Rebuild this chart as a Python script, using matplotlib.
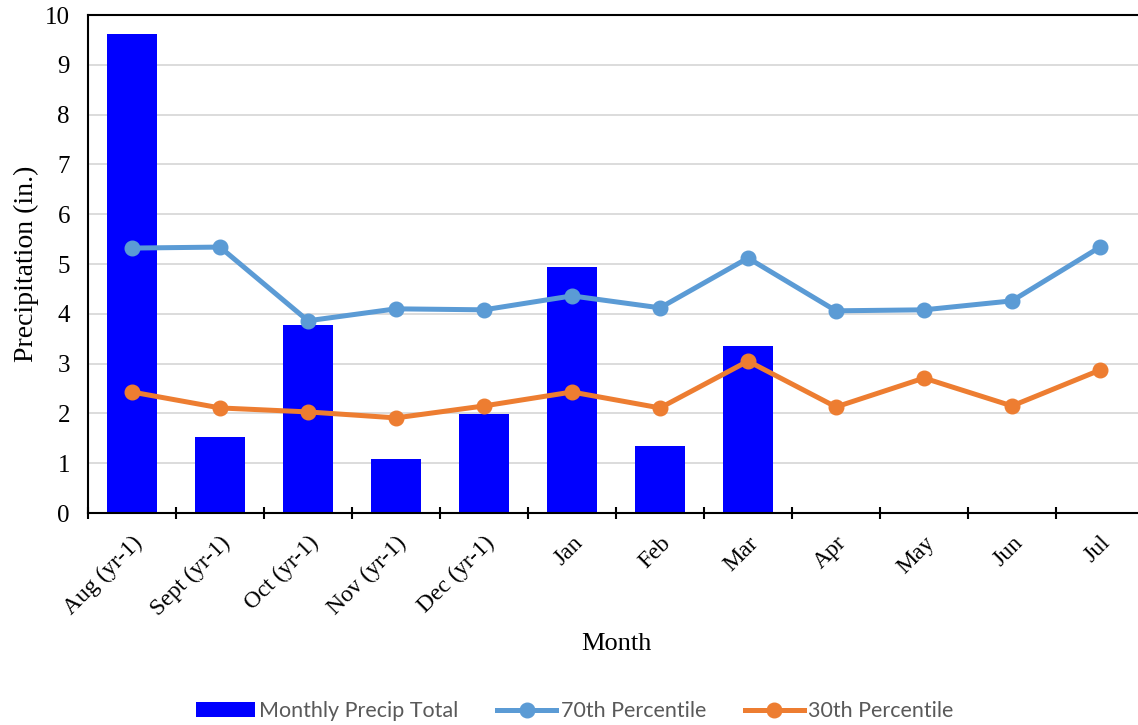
import numpy as np
import matplotlib.pyplot as plt
from matplotlib.ticker import FixedLocator

months = ['Aug (yr-1)', 'Sept (yr-1)', 'Oct (yr-1)', 'Nov (yr-1)', 'Dec (yr-1)',
          'Jan', 'Feb', 'Mar', 'Apr', 'May', 'Jun', 'Jul']
precip_total = [9.62, 1.53, 3.78, 1.08, 1.99, 4.94, 1.35, 3.35]
pct70 = [5.32, 5.34, 3.86, 4.10, 4.08, 4.36, 4.12, 5.12, 4.06, 4.08, 4.26, 5.34]
pct30 = [2.43, 2.11, 2.03, 1.91, 2.15, 2.43, 2.11, 3.05, 2.13, 2.71, 2.15, 2.87]

serif = ['Liberation Serif', 'DejaVu Serif']

fig = plt.figure(figsize=(11.38, 7.25), dpi=100)
ax = fig.add_axes([0.0773, 0.2924, 0.928, 0.6869])

x = np.arange(len(months))
bars = ax.bar(x[:len(precip_total)], precip_total, width=0.56, color='#0000FF',
              label='Monthly Precip Total', zorder=2)
l70, = ax.plot(x, pct70, color='#5B9BD5', lw=3.6, marker='o', ms=10.5,
               label='70th Percentile', zorder=3)
l30, = ax.plot(x, pct30, color='#ED7D31', lw=3.6, marker='o', ms=10.5,
               label='30th Percentile', zorder=3)

ax.set_xlim(-0.5, len(months) - 0.5)
ax.set_ylim(0, 10)
ax.set_yticks(range(0, 11))
ax.yaxis.grid(True, color='#D9D9D9', lw=1.3, zorder=0)
ax.set_axisbelow(True)

ax.set_xticks(x)
ax.set_xticklabels(months, rotation=45, ha='right', rotation_mode='anchor',
                   family=serif, fontsize=17)
ax.xaxis.set_minor_locator(FixedLocator(np.arange(-0.5, len(months), 1.0)))
ax.tick_params(axis='x', which='major', length=0, pad=14)
ax.tick_params(axis='x', which='minor', length=9, width=1.5, direction='inout')
ax.tick_params(axis='y', length=0, pad=13)
for lab in ax.get_yticklabels():
    lab.set_family(serif)
    lab.set_fontsize(18)

for side in ['left', 'top', 'bottom']:
    ax.spines[side].set_linewidth(1.5)
ax.spines['right'].set_visible(False)

ax.set_xlabel('Month', family=serif, fontsize=19, labelpad=9)
ax.set_ylabel('Precipitation (in.)', family=serif, fontsize=20, labelpad=4)

fig.legend(handles=[bars, l70, l30], loc='center', bbox_to_anchor=(0.505, 0.019),
           ncol=3, frameon=False,
           prop={'family': ['Lato', 'DejaVu Sans'], 'size': 15.5},
           labelcolor='#595959', handlelength=2.75, columnspacing=1.8,
           handletextpad=0.2)

fig.savefig('out.png', dpi=100)
